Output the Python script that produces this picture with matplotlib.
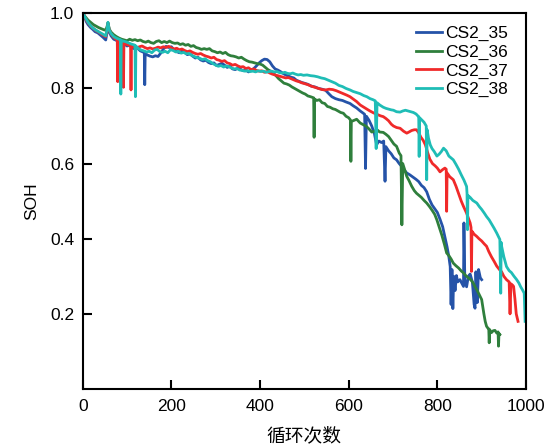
import matplotlib
matplotlib.use("Agg")
import matplotlib.pyplot as plt

# (cycle, SOH) points
cs35 = [(3, .995), (8, .978), (12, .970), (18, .962), (22, .958), (28, .951), (34, .948),
        (40, .942), (46, .936), (52, .929), (55, .950), (57, .972), (60, .950), (64, .940),
        (70, .931), (76, .928), (82, .922), (88, .924), (94, .918), (100, .913), (106, .915),
        (112, .908), (118, .905), (124, .907), (130, .900), (136, .897), (139, .896),
        (140, .810), (141, .893), (146, .889), (152, .886), (158, .884), (164, .887),
        (170, .885), (176, .894), (182, .905), (188, .912), (194, .909), (200, .911),
        (206, .903), (212, .898), (218, .895), (224, .899), (230, .896), (236, .890),
        (242, .892), (248, .886), (254, .881), (260, .883), (266, .876), (272, .873),
        (278, .875), (284, .869), (290, .866), (296, .868), (302, .861), (308, .864),
        (314, .867), (320, .862), (326, .856), (332, .859), (338, .852), (344, .850),
        (350, .854), (356, .851), (362, .847), (368, .849), (374, .844), (380, .848),
        (386, .853), (392, .860), (398, .868), (404, .874), (410, .878), (416, .877),
        (422, .871), (428, .860), (434, .852), (440, .849), (446, .845), (452, .840),
        (458, .836), (464, .833), (470, .830), (476, .828), (482, .822), (488, .819),
        (494, .816), (500, .814), (508, .811), (516, .806), (524, .804), (532, .800),
        (540, .798), (548, .795), (556, .785), (562, .778), (570, .773), (578, .770),
        (586, .768), (594, .764), (603, .760), (610, .754), (618, .748), (626, .740),
        (633, .734), (636, .731), (638, .587), (640, .726), (646, .715), (652, .700),
        (658, .680), (663, .650), (668, .660), (674, .656), (679, .660), (682, .553),
        (684, .645), (690, .634), (696, .626), (702, .615), (708, .610), (714, .600),
        (720, .592), (726, .582), (731, .575), (738, .570), (745, .564), (752, .558),
        (758, .552), (764, .542), (770, .536), (776, .525), (782, .505), (788, .490),
        (794, .480), (800, .470), (806, .452), (812, .432), (818, .400), (822, .378),
        (826, .352), (829, .326), (831, .225), (833, .318), (835, .214), (837, .300),
        (840, .262), (843, .302), (846, .285), (851, .291), (855, .282), (859, .273),
        (860, .442), (862, .290), (866, .272), (870, .300), (874, .306), (879, .285),
        (883, .225), (885, .215), (887, .312), (890, .230), (893, .318), (897, .296),
        (900, .291)]

cs36 = [(3, .995), (8, .988), (12, .982), (18, .976), (24, .970), (30, .966), (36, .962),
        (42, .959), (48, .956), (52, .955), (55, .965), (57, .975), (60, .958), (64, .950),
        (70, .943), (76, .938), (82, .934), (88, .931), (94, .929), (100, .927), (106, .931),
        (112, .928), (118, .930), (124, .927), (130, .929), (136, .925), (142, .923),
        (148, .926), (154, .922), (160, .920), (166, .925), (172, .927), (178, .922),
        (184, .925), (190, .922), (196, .926), (202, .922), (208, .920), (214, .921),
        (220, .917), (226, .919), (232, .915), (238, .917), (244, .912), (250, .914),
        (256, .909), (262, .907), (268, .904), (274, .906), (280, .904), (286, .906),
        (292, .900), (298, .898), (304, .895), (310, .897), (316, .893), (322, .896),
        (328, .890), (334, .887), (340, .886), (346, .884), (352, .881), (358, .883),
        (364, .878), (370, .874), (376, .871), (382, .870), (388, .868), (394, .866),
        (400, .865), (406, .862), (412, .856), (418, .850), (424, .846), (430, .840),
        (436, .834), (442, .826), (448, .820), (454, .814), (460, .812), (466, .809),
        (472, .804), (478, .800), (484, .796), (490, .792), (496, .788), (502, .785),
        (508, .780), (514, .778), (519, .776), (521, .775), (522, .670), (523, .772),
        (528, .768), (534, .770), (540, .762), (546, .760), (552, .752), (558, .750),
        (564, .746), (570, .744), (576, .740), (582, .736), (588, .734), (594, .726),
        (600, .722), (604, .716), (605, .606), (606, .712), (612, .715), (618, .718),
        (626, .708), (632, .704), (640, .699), (646, .692), (652, .684), (658, .686),
        (664, .690), (670, .684), (678, .683), (684, .678), (690, .672), (696, .662),
        (702, .652), (708, .646), (714, .628), (718, .621), (720, .437), (722, .600),
        (726, .585), (731, .566), (736, .555), (742, .540), (748, .528), (753, .521),
        (758, .516), (764, .510), (770, .502), (776, .495), (782, .486), (788, .476),
        (794, .465), (799, .450), (804, .432), (810, .410), (816, .385), (821, .362),
        (826, .355), (831, .346), (836, .335), (842, .328), (848, .322), (854, .314),
        (859, .309), (864, .302), (870, .296), (876, .290), (881, .282), (886, .270),
        (890, .262), (895, .250), (900, .238), (905, .200), (908, .180), (911, .167),
        (914, .162), (916, .160), (917, .123), (918, .158), (922, .150), (926, .155),
        (930, .156), (934, .149), (937, .152), (938, .114), (939, .148), (941, .145)]

cs37 = [(3, .995), (8, .982), (12, .975), (18, .966), (24, .960), (30, .954), (36, .950),
        (42, .945), (48, .941), (52, .938), (55, .955), (57, .974), (60, .955), (64, .945),
        (70, .936), (75, .931), (78, .930), (79, .818), (80, .928), (85, .925), (90, .922),
        (91, .922), (92, .803), (93, .920), (100, .917), (106, .914), (108, .913),
        (109, .796), (110, .912), (116, .910), (122, .908), (128, .911), (134, .913),
        (140, .909), (146, .906), (152, .908), (158, .905), (164, .907), (170, .910),
        (176, .908), (182, .911), (188, .909), (194, .912), (200, .908), (206, .905),
        (212, .907), (218, .903), (224, .905), (230, .901), (236, .898), (242, .900),
        (248, .896), (254, .893), (260, .891), (266, .893), (272, .889), (278, .886),
        (284, .884), (290, .881), (296, .883), (302, .877), (308, .875), (314, .872),
        (320, .874), (326, .868), (332, .866), (338, .862), (344, .864), (350, .860),
        (356, .857), (362, .858), (368, .853), (374, .855), (380, .850), (386, .852),
        (392, .848), (398, .846), (404, .847), (410, .843), (416, .845), (422, .841),
        (428, .838), (434, .836), (440, .834), (446, .832), (452, .830), (458, .828),
        (464, .829), (470, .826), (476, .823), (482, .820), (488, .818), (494, .815),
        (500, .813), (508, .810), (516, .806), (524, .803), (532, .800), (540, .797),
        (548, .796), (556, .798), (564, .797), (572, .794), (580, .790), (588, .786),
        (596, .782), (603, .778), (610, .772), (618, .765), (626, .756), (634, .750),
        (641, .745), (648, .740), (656, .735), (664, .731), (672, .727), (678, .725),
        (684, .720), (690, .714), (696, .705), (701, .700), (708, .696), (716, .694),
        (724, .686), (731, .681), (736, .684), (742, .688), (748, .690), (753, .690),
        (758, .682), (763, .670), (768, .662), (773, .650), (778, .630), (783, .612),
        (789, .600), (795, .594), (800, .588), (806, .578), (812, .584), (817, .588),
        (820, .585), (821, .473), (822, .575), (828, .565), (836, .557), (842, .540),
        (848, .520), (854, .500), (859, .486), (866, .468), (870, .455), (874, .442),
        (876, .430), (877, .313), (878, .420), (883, .412), (889, .406), (894, .400),
        (900, .394), (906, .386), (911, .380), (916, .366), (922, .352), (928, .340),
        (934, .327), (940, .318), (945, .312), (950, .300), (956, .291), (960, .287),
        (962, .285), (964, .200), (966, .280), (970, .276), (972, .273), (975, .240),
        (978, .200), (982, .180)]

cs38 = [(3, .995), (8, .984), (12, .976), (18, .967), (24, .960), (30, .955), (36, .951),
        (42, .947), (48, .943), (52, .940), (55, .958), (57, .976), (60, .955), (64, .946),
        (70, .938), (76, .934), (82, .931), (85, .930), (86, .785), (87, .928), (92, .926),
        (98, .924), (104, .921), (110, .918), (116, .916), (118, .915), (119, .778),
        (120, .913), (126, .906), (132, .902), (138, .900), (144, .897), (150, .899),
        (156, .895), (162, .902), (168, .904), (174, .898), (180, .896), (186, .899),
        (192, .895), (198, .903), (204, .901), (210, .897), (216, .899), (222, .894),
        (228, .896), (234, .892), (240, .893), (246, .888), (252, .885), (258, .882),
        (264, .880), (270, .877), (276, .879), (282, .874), (288, .871), (294, .866),
        (300, .862), (306, .859), (312, .861), (318, .857), (324, .860), (330, .858),
        (336, .854), (342, .852), (348, .853), (354, .849), (360, .848), (366, .846),
        (372, .847), (378, .845), (384, .846), (390, .844), (396, .847), (402, .845),
        (408, .846), (414, .843), (420, .845), (426, .846), (432, .844), (438, .845),
        (444, .842), (450, .841), (456, .843), (462, .840), (468, .839), (474, .841),
        (480, .838), (486, .836), (492, .837), (498, .835), (506, .836), (514, .834),
        (522, .833), (530, .831), (538, .828), (546, .826), (554, .822), (562, .818),
        (570, .814), (578, .808), (586, .805), (594, .800), (603, .796), (610, .792),
        (618, .789), (626, .786), (634, .781), (641, .778), (648, .773), (655, .770),
        (660, .767), (662, .640), (664, .762), (670, .756), (678, .750), (684, .747),
        (690, .745), (696, .743), (701, .742), (708, .738), (716, .737), (722, .740),
        (728, .742), (734, .740), (740, .738), (746, .736), (752, .732), (756, .727),
        (758, .725), (759, .619), (760, .722), (765, .716), (770, .710), (774, .702),
        (775, .700), (776, .557), (777, .690), (780, .668), (784, .650), (788, .640),
        (793, .632), (799, .620), (804, .625), (809, .632), (814, .641), (820, .634),
        (826, .620), (832, .614), (836, .610), (842, .598), (848, .585), (854, .570),
        (860, .556), (866, .539), (867, .520), (868, .424), (869, .515), (874, .510),
        (880, .502), (889, .495), (895, .485), (900, .478), (906, .468), (911, .459),
        (917, .450), (922, .440), (928, .428), (934, .415), (938, .405), (941, .398),
        (943, .255), (944, .390), (945, .380), (950, .352), (956, .326), (962, .315),
        (967, .310), (973, .300), (979, .291), (984, .282), (988, .272), (992, .264),
        (996, .255), (998, .180)]

names = ["CS2_35", "CS2_36", "CS2_37", "CS2_38"]
colors = ["#2553a8", "#2f7f3c", "#f02a2a", "#1fbdb6"]

plt.rcParams['font.family'] = ['Liberation Sans', 'DejaVu Sans']

fig = plt.figure(figsize=(5.52, 4.48), dpi=100)
ax = fig.add_axes([0.1498, 0.1317, 0.8031, 0.8386])

for pts, name, c in zip([cs35, cs36, cs37, cs38], names, colors):
    xs = [p[0] for p in pts]
    ys = [p[1] for p in pts]
    ax.plot(xs, ys, color=c, lw=2.0, label=name)

ax.set_xlim(0, 1000)
ax.set_ylim(0, 1.0)
ax.set_xticks([0, 200, 400, 600, 800, 1000])
ax.set_yticks([0.2, 0.4, 0.6, 0.8, 1.0])
ax.tick_params(direction='in', length=6.5, width=1.5, labelsize=12.5)
ax.tick_params(axis='x', pad=7)
ax.tick_params(axis='y', pad=6)
for sp in ax.spines.values():
    sp.set_linewidth(1.5)

ax.set_ylabel("SOH", fontsize=12.5, labelpad=8)
ax.set_xlabel("循环次数", fontsize=13.5, family=['Noto Sans CJK SC', 'DejaVu Sans'], labelpad=8)

ax.legend(loc='upper left', bbox_to_anchor=(0.752, 0.967), frameon=False, fontsize=12.5,
          borderpad=0, labelspacing=0.2, handlelength=1.5, handletextpad=0.15,
          borderaxespad=0)

fig.savefig("out.png", dpi=100)
